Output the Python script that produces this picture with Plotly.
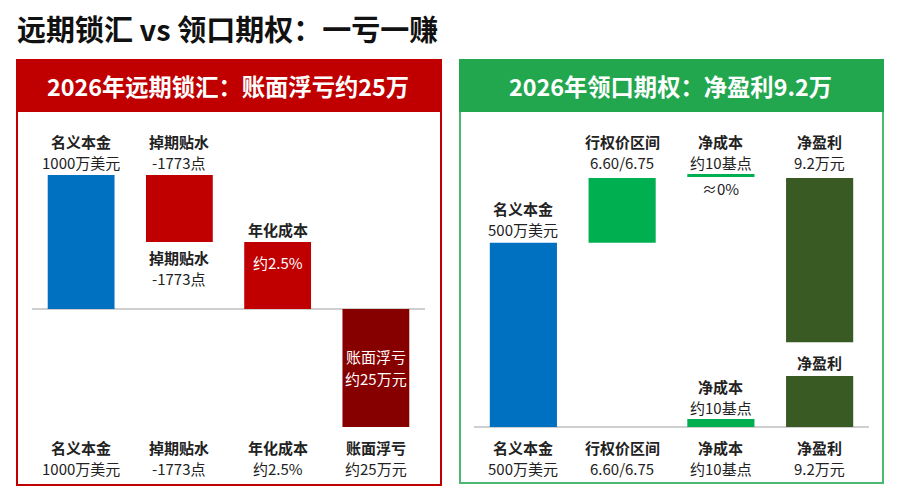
import plotly.graph_objects as go

# ---- data ----
# left panel: forward lock (arbitrary height units, baseline = 0)
fwd_x = [0, 1, 2, 3]
fwd_base = [0, 50, 0, -88]
fwd_height = [100, 50, 50, 88]
fwd_colors = ["#0070C0", "#C00000", "#C00000", "#860000"]
fwd_names = ["名义本金", "掉期贴水", "年化成本", "账面浮亏"]
fwd_values = ["1000万美元", "-1773点", "约2.5%", "约25万元"]

# right panel: collar option
opt_x = [0, 1, 2, 2, 3, 3]
opt_base = [0, 74, 0, 100.4, 34, 0]
opt_height = [74, 26, 3.2, 1.2, 66, 20.5]
opt_colors = ["#0070C0", "#00B050", "#00B050", "#00B050", "#3A5A24", "#3A5A24"]
opt_names = ["名义本金", "行权价区间", "净成本", "净盈利"]
opt_values = ["500万美元", "6.60/6.75", "约10基点", "9.2万元"]

W, H = 900, 493
FONT = "Noto Sans CJK SC, Noto Sans, sans-serif"
K1, BASE1 = 1.34, 309  # px per unit, baseline pixel row (left)
K2, BASE2 = 2.49, 427  # (right)


def py(p):
    return 1 - p / H


fig = go.Figure()

fig.add_trace(go.Bar(
    x=fwd_x, y=fwd_height, base=fwd_base, width=0.68,
    marker=dict(color=fwd_colors, line_width=0),
    xaxis="x", yaxis="y", hoverinfo="skip",
))
fig.add_trace(go.Bar(
    x=opt_x, y=opt_height, base=opt_base, width=0.68,
    marker=dict(color=opt_colors, line_width=0),
    xaxis="x2", yaxis="y2", hoverinfo="skip",
))

ax = dict(visible=False, fixedrange=True)
fig.update_layout(
    width=W, height=H,
    margin=dict(l=0, r=0, t=0, b=0),
    paper_bgcolor="white", plot_bgcolor="rgba(0,0,0,0)",
    showlegend=False, barmode="overlay",
    font=dict(family=FONT, size=15, color="#222222"),
    xaxis=dict(domain=[32 / W, 425 / W], range=[-0.5, 3.5], **ax),
    yaxis=dict(domain=[0, 1], range=[-(H - BASE1) / K1, BASE1 / K1], **ax),
    xaxis2=dict(domain=[474 / W, 869 / W], range=[-0.5, 3.5], anchor="y2", **ax),
    yaxis2=dict(domain=[0, 1], range=[-(H - BASE2) / K2, BASE2 / K2], anchor="x2", **ax),
)

# panel frames, headers, baselines
shapes = [
    dict(type="rect", xref="paper", yref="paper", x0=17 / W, x1=441 / W, y0=py(485), y1=py(60),
         fillcolor="white", line=dict(color="#C00000", width=2), layer="below"),
    dict(type="rect", xref="paper", yref="paper", x0=17 / W, x1=441 / W, y0=py(111), y1=py(60),
         fillcolor="#C00000", line=dict(color="#C00000", width=2), layer="below"),
    dict(type="rect", xref="paper", yref="paper", x0=460 / W, x1=883 / W, y0=py(483), y1=py(60),
         fillcolor="white", line=dict(color="#4DB870", width=2), layer="below"),
    dict(type="rect", xref="paper", yref="paper", x0=460 / W, x1=883 / W, y0=py(111), y1=py(60),
         fillcolor="#22A74F", line=dict(color="#22A74F", width=2), layer="below"),
    dict(type="line", xref="x domain", yref="y", x0=0, x1=1, y0=0, y1=0,
         line=dict(color="#BFBFBF", width=1.5), layer="below"),
    dict(type="line", xref="x2 domain", yref="y2", x0=0, x1=1, y0=0, y1=0,
         line=dict(color="#BFBFBF", width=1.5), layer="below"),
]
fig.update_layout(shapes=shapes)

ann = []


def label(text, xref, yref, x, y, shift=0, bold=False, color="#222222"):
    ann.append(dict(text=f"<b>{text}</b>" if bold else text, xref=xref, yref=yref, x=x, y=y,
                    xanchor="center", yanchor="middle", yshift=shift, showarrow=False,
                    borderpad=0, font=dict(color=color)))


def pair(i, names, values, xref, yref, x, y, s1, s2, color="#222222"):
    label(names[i], xref, yref, x, y, s1, bold=True, color=color)
    label(values[i], xref, yref, x, y, s2, color=color)


# main title and headers
ann.append(dict(text="<b>远期锁汇 vs 领口期权：一亏一赚</b>", xref="paper", yref="paper",
                x=15 / W, y=py(28), xanchor="left", yanchor="middle", showarrow=False,
                font=dict(size=29, color="#111111")))
ann.append(dict(text="<b>2026年远期锁汇：账面浮亏约25万</b>", xref="paper", yref="paper",
                x=228 / W, y=py(86), xanchor="center", yanchor="middle", showarrow=False,
                font=dict(size=23.3, color="white")))
ann.append(dict(text="<b>2026年领口期权：净盈利9.2万</b>", xref="paper", yref="paper",
                x=670 / W, y=py(86), xanchor="center", yanchor="middle", showarrow=False,
                font=dict(size=23.3, color="white")))

# left panel labels
top = [b + h for b, h in zip(fwd_base, fwd_height)]
pair(0, fwd_names, fwd_values, "x", "y", fwd_x[0], top[0], 34, 13)
pair(1, fwd_names, fwd_values, "x", "y", fwd_x[1], top[1], 34, 13)
pair(1, fwd_names, fwd_values, "x", "y", fwd_x[1], fwd_base[1], -15, -36)
label(fwd_names[2], "x", "y", fwd_x[2], top[2], 13, bold=True)
label(fwd_values[2], "x", "y", fwd_x[2], top[2], -20, color="white")
mid3 = fwd_base[3] + fwd_height[3] / 2
label(fwd_names[3], "x", "y", fwd_x[3], mid3, 11, color="white")
label(fwd_values[3], "x", "y", fwd_x[3], mid3, -11, color="white")
for i in range(4):
    pair(i, fwd_names, fwd_values, "x", "paper", fwd_x[i], py(458), 10.5, -10.5)

# right panel labels
pair(0, opt_names, opt_values, "x2", "y2", 0, opt_base[0] + opt_height[0], 34, 13)
pair(1, opt_names, opt_values, "x2", "y2", 1, opt_base[1] + opt_height[1], 36.5, 15.5)
pair(2, opt_names, opt_values, "x2", "y2", 2, opt_base[3] + opt_height[3], 32.5, 11.5)
label("≈0%", "x2", "y2", 2, opt_base[3], -11)
pair(3, opt_names, opt_values, "x2", "y2", 3, opt_base[4] + opt_height[4], 36.5, 15.5)
label(opt_names[3], "x2", "y2", 3, (opt_base[4] + opt_base[5] + opt_height[5]) / 2, -3, bold=True)
pair(2, opt_names, opt_values, "x2", "y2", 2, opt_base[2] + opt_height[2], 32.5, 11.5)
for i in range(4):
    pair(i, opt_names, opt_values, "x2", "paper", i, py(458), 10.5, -10.5)

fig.update_layout(annotations=ann)

fig.write_html("out.html", config={"displayModeBar": False},
               post_script="document.body.style.margin='0';")
